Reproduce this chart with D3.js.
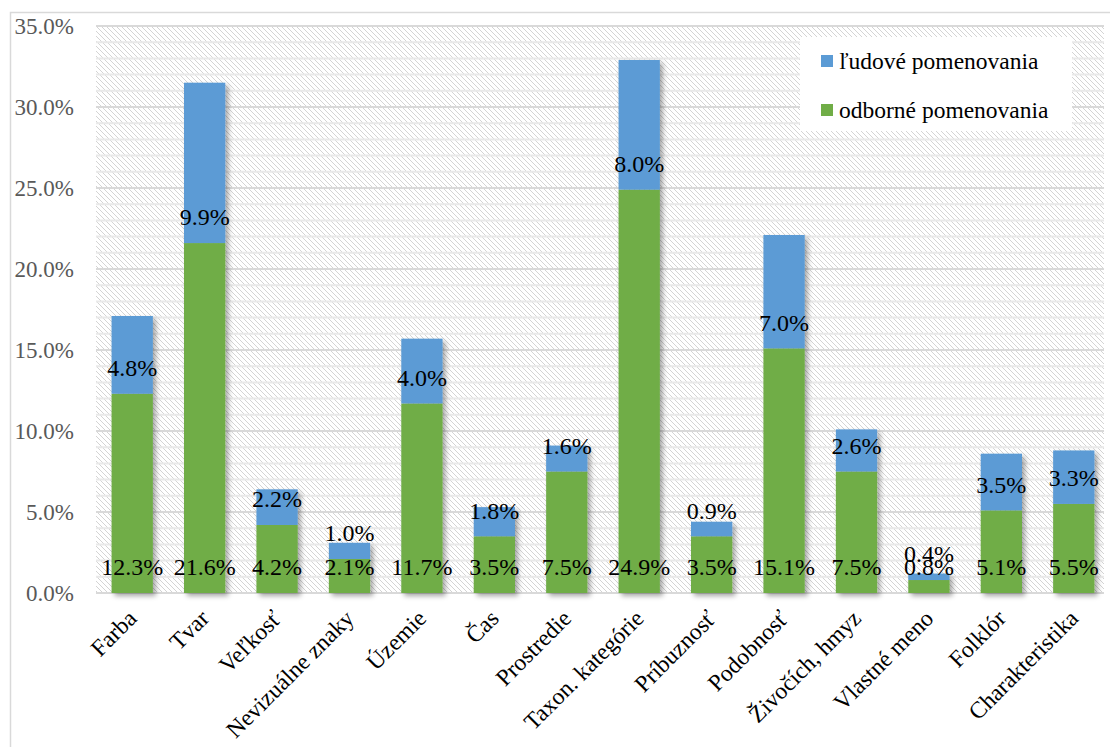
<!DOCTYPE html>
<html>
<head>
<meta charset="utf-8">
<script src="https://cdn.jsdelivr.net/npm/d3@7"></script>
<style>
  body { margin: 0; background: #fff; }
  svg { display: block; }
  text { font-family: "Liberation Serif", "Times New Roman", serif; }
</style>
</head>
<body>
<svg id="chart" width="1110" height="747"></svg>
<script>
const categories = ["Farba", "Tvar", "Veľkosť", "Nevizuálne znaky", "Územie", "Čas", "Prostredie",
  "Taxon. kategórie", "Príbuznosť", "Podobnosť", "Živočích, hmyz", "Vlastné meno", "Folklór", "Charakteristika"];
const odborne = [12.3, 21.6, 4.2, 2.1, 11.7, 3.5, 7.5, 24.9, 3.5, 15.1, 7.5, 0.8, 5.1, 5.5];
const ludove  = [4.8, 9.9, 2.2, 1.0, 4.0, 1.8, 1.6, 8.0, 0.9, 7.0, 2.6, 0.4, 3.5, 3.3];
const seriesNames = ["ľudové pomenovania", "odborné pomenovania"];
const yTicks = [0, 5, 10, 15, 20, 25, 30, 35];

const colors = { ludove: "#5B9BD5", odborne: "#70AD47" };

const svg = d3.select("#chart");
const plot = { left: 96, right: 1104, top: 26, bottom: 593 };

const defs = svg.append("defs");
const pat = defs.append("pattern").attr("id", "hatch").attr("patternUnits", "userSpaceOnUse")
  .attr("width", 5).attr("height", 5);
pat.append("rect").attr("width", 5).attr("height", 5).attr("fill", "#fff");
pat.append("path").attr("d", "M-1,-1 L6,6 M-1,4 L1,6 M4,-1 L6,1").attr("stroke", "#d4d4d4").attr("stroke-width", 1);
const f = defs.append("filter").attr("id", "shadow").attr("x", "-20%").attr("y", "-20%").attr("width", "150%").attr("height", "150%");
f.append("feDropShadow").attr("dx", 3).attr("dy", 3).attr("stdDeviation", 2.5)
  .attr("flood-color", "#000").attr("flood-opacity", 0.35);

// outer border
svg.append("rect").attr("x", 10.5).attr("y", 12.5).attr("width", 1120).attr("height", 760)
  .attr("fill", "#fff").attr("stroke", "#d9d9d9").attr("stroke-width", 1.5);

const x = d3.scaleBand().domain(categories).range([96, 1110]).paddingInner(0.43).paddingOuter(0.215);
const y = d3.scaleLinear().domain([0, 35]).range([plot.bottom, plot.top]);

// hatch background
svg.append("rect").attr("x", plot.left).attr("y", plot.top)
  .attr("width", plot.right - plot.left).attr("height", plot.bottom - plot.top).attr("fill", "url(#hatch)");

// minor grid (1%)
const minor = d3.range(0, 36, 1).filter(v => v % 5 !== 0);
svg.append("g").selectAll("line").data(minor).join("line")
  .attr("x1", plot.left).attr("x2", plot.right)
  .attr("y1", d => y(d)).attr("y2", d => y(d))
  .attr("stroke", "#e9e9e9").attr("stroke-width", 2);
// major grid
svg.append("g").selectAll("line").data(yTicks).join("line")
  .attr("x1", plot.left).attr("x2", plot.right)
  .attr("y1", d => y(d)).attr("y2", d => y(d))
  .attr("stroke", "#d9d9d9").attr("stroke-width", 2);

// y axis labels
const yAxis = d3.axisLeft(y).tickValues(yTicks).tickFormat(d => d.toFixed(1) + "%").tickSize(0).tickPadding(0);
const yg = svg.append("g").attr("transform", `translate(74,0)`).call(yAxis);
yg.select(".domain").remove();
yg.selectAll("text").attr("font-size", 23).attr("fill", "#595959")
  .attr("font-family", "Liberation Serif, Times New Roman, serif").attr("dy", "0.34em");

// bars
const data = categories.map((c, i) => ({ c, o: odborne[i], l: ludove[i] }));
const bars = svg.append("g").attr("filter", "url(#shadow)");
bars.selectAll("rect.o").data(data).join("rect").attr("class", "o")
  .attr("x", d => x(d.c)).attr("width", x.bandwidth())
  .attr("y", d => y(d.o)).attr("height", d => y(0) - y(d.o)).attr("fill", colors.odborne);
bars.selectAll("rect.l").data(data).join("rect").attr("class", "l")
  .attr("x", d => x(d.c)).attr("width", x.bandwidth())
  .attr("y", d => y(d.o + d.l)).attr("height", d => y(d.o) - y(d.o + d.l)).attr("fill", colors.ludove);

// data labels
const lab = svg.append("g").attr("font-size", 24).attr("fill", "#000").attr("text-anchor", "middle");
lab.selectAll("text.o").data(data).join("text").attr("class", "o")
  .attr("x", d => x(d.c) + x.bandwidth() / 2).attr("y", y(0) - 26).attr("dy", "0.35em")
  .text(d => d.o.toFixed(1) + "%");
lab.selectAll("text.l").data(data).join("text").attr("class", "l")
  .attr("x", d => x(d.c) + x.bandwidth() / 2).attr("y", d => y(d.o) - 26).attr("dy", "0.35em")
  .text(d => d.l.toFixed(1) + "%");

// x labels
svg.append("g").selectAll("text").data(categories).join("text")
  .attr("transform", d => `translate(${x(d) + x.bandwidth() / 2},614) rotate(-45)`)
  .attr("text-anchor", "end").attr("dy", "0.35em").attr("font-size", 23.5).attr("fill", "#000")
  .text(d => d);

// legend
const lg = svg.append("g");
lg.append("rect").attr("x", 800).attr("y", 37).attr("width", 272).attr("height", 94).attr("fill", "#fff");
const items = [{ n: seriesNames[0], c: colors.ludove, y: 61 }, { n: seriesNames[1], c: colors.odborne, y: 110 }];
items.forEach(it => {
  lg.append("rect").attr("x", 821).attr("y", it.y - 6).attr("width", 12).attr("height", 12).attr("fill", it.c);
  lg.append("text").attr("x", 839).attr("y", it.y).attr("dy", "0.33em").attr("font-size", 23.5).attr("fill", "#000").text(it.n);
});
</script>
</body>
</html>
